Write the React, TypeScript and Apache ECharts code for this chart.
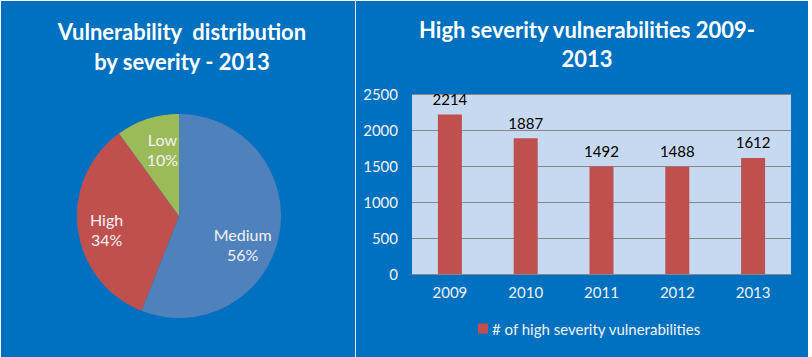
import React, { useEffect, useRef } from "react";
import * as echarts from "echarts";

const pieTitle = "Vulnerability  distribution\nby severity - 2013";
const barTitle = "High severity vulnerabilities 2009-\n2013";
const severityNames = ["Medium", "High", "Low"];
const severityShares = [56, 34, 10];
const severityColors = ["#4F81BD", "#C0504D", "#9BBB59"];
const years = ["2009", "2010", "2011", "2012", "2013"];
const highCounts = [2214, 1887, 1492, 1488, 1612];
const seriesName = "# of high severity vulnerabilities";

// label nudges (style only) to mimic the original's in-slice placement
const pieLabelOffsets = [[-8, 15], [0, 4], [6, 3]];

const FONT = "Lato, 'Noto Sans', sans-serif";
const BLUE = "#0070C0";
const LIGHT = "#F2F2F2";

export default function App() {
  const ref = useRef<HTMLDivElement>(null);
  useEffect(() => {
    document.body.style.margin = "0";
    const chart = echarts.init(ref.current!, null, { renderer: "svg" });
    const pieData = severityNames.map((n, i) => ({
      name: n,
      value: severityShares[i],
      itemStyle: { color: severityColors[i] },
    }));
    chart.setOption({
      animation: false,
      backgroundColor: "#FFFFFF",
      textStyle: { fontFamily: FONT },
      graphic: [
        { type: "rect", shape: { x: 1, y: 1, width: 354, height: 356 }, style: { fill: BLUE }, z: -10 },
        { type: "rect", shape: { x: 356, y: 1, width: 452, height: 356 }, style: { fill: BLUE }, z: -10 },
        { type: "line", shape: { x1: 355.5, y1: 0, x2: 355.5, y2: 357 }, style: { stroke: "#D9E6F2", lineWidth: 1 }, z: -9 },
      ],
      title: [
        {
          text: pieTitle,
          left: 177,
          top: 11,
          textAlign: "center",
          textStyle: { color: "#FFFFFF", fontSize: 22, fontWeight: "bold", lineHeight: 30, fontFamily: FONT },
        },
        {
          text: barTitle,
          left: 582,
          top: 10,
          textAlign: "center",
          textStyle: { color: "#FFFFFF", fontSize: 22, fontWeight: "bold", lineHeight: 29, fontFamily: FONT },
        },
      ],
      legend: {
        data: [seriesName],
        left: 478,
        top: 321,
        padding: 0,
        itemWidth: 10,
        itemHeight: 10,
        icon: "rect",
        itemGap: 5,
        textStyle: { color: LIGHT, fontSize: 15, fontFamily: FONT, padding: [0, 0, 0, -1] },
      },
      grid: {
        left: 412,
        right: 21,
        top: 94,
        bottom: 83,
        show: true,
        backgroundColor: "#C6D9F1",
        borderWidth: 0,
      },
      xAxis: {
        type: "category",
        data: years,
        axisTick: { show: false },
        axisLine: { show: true, lineStyle: { color: "#868686" } },
        axisLabel: { color: LIGHT, fontSize: 15, margin: 10, fontFamily: FONT },
      },
      yAxis: {
        type: "value",
        min: 0,
        max: 2500,
        interval: 500,
        axisLine: { show: false },
        axisTick: { show: false },
        splitLine: { lineStyle: { color: "#868686" } },
        axisLabel: { color: LIGHT, fontSize: 15, margin: 14, fontFamily: FONT, formatter: (v: number) => String(v) },
      },
      series: [
        {
          type: "pie",
          center: [179, 216],
          radius: [0, 102],
          startAngle: 90,
          clockwise: true,
          silent: true,
          label: { show: false },
          labelLine: { show: false },
          data: pieData,
        },
        {
          type: "pie",
          center: [179, 216],
          radius: [38, 102],
          startAngle: 90,
          clockwise: true,
          silent: true,
          itemStyle: { color: "rgba(0,0,0,0)" },
          labelLine: { show: false },
          label: {
            show: true,
            position: "inside",
            formatter: "{b}\n{d}%",
            color: LIGHT,
            fontSize: 16,
            lineHeight: 20,
            fontFamily: FONT,
          },
          data: severityNames.map((n, i) => ({
            name: n,
            value: severityShares[i],
            label: { offset: pieLabelOffsets[i] },
          })),
        },
        {
          type: "bar",
          name: seriesName,
          data: highCounts,
          barWidth: 24,
          itemStyle: { color: "#C0504D" },
          label: {
            show: true,
            position: "top",
            distance: 8,
            color: "#000000",
            fontSize: 15,
            fontFamily: FONT,
          },
        },
      ],
    });
    return () => chart.dispose();
  }, []);
  return <div ref={ref} style={{ width: 812, height: 357, position: "absolute", left: 0, top: 0 }} />;
}
